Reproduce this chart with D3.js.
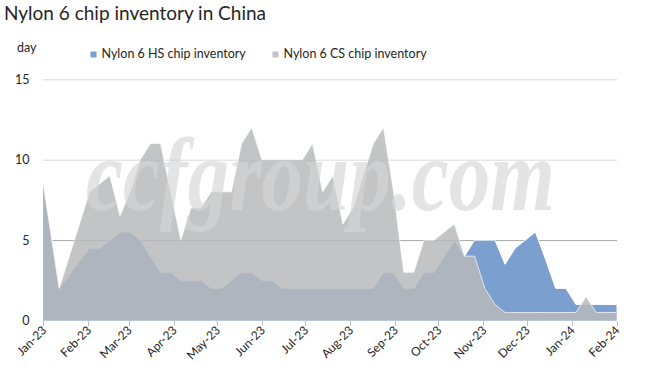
<!DOCTYPE html>
<html><head><meta charset="utf-8">
<script src="https://cdn.jsdelivr.net/npm/d3@7"></script>
<style>body{margin:0;background:#fff} svg{display:block}</style>
</head><body><svg id="c" width="647" height="380"></svg>
<script>
const dates = ["2023-01-01","2023-01-12","2023-02-02","2023-02-09","2023-02-16","2023-02-23","2023-03-02","2023-03-09","2023-03-16","2023-03-23","2023-03-30","2023-04-06","2023-04-13","2023-04-20","2023-04-27","2023-05-04","2023-05-11","2023-05-18","2023-05-25","2023-06-01","2023-06-08","2023-06-15","2023-06-22","2023-06-29","2023-07-06","2023-07-13","2023-07-20","2023-07-27","2023-08-03","2023-08-10","2023-08-17","2023-08-24","2023-08-31","2023-09-07","2023-09-14","2023-09-21","2023-09-28","2023-10-12","2023-10-19","2023-10-26","2023-11-02","2023-11-09","2023-11-16","2023-11-23","2023-11-30","2023-12-07","2023-12-14","2023-12-21","2023-12-28","2024-01-04","2024-01-11","2024-01-18","2024-01-25","2024-02-01"];
const hsValues = [8.5,2,4.5,4.5,5,5.5,5.5,5,4,3,3,2.5,2.5,2.5,2,2,2.5,3,3,2.5,2.5,2,2,2,2,2,2,2,2,2,2,3,3,2,2,3,3,5,4,5,5,5,3.5,4.5,5,5.5,3.8,2,2,1,1,1,1,1];
const csValues = [8.5,2,8,8.5,9,6.5,8,10,11,11,8,5,7,7,8,8,8,11,12,10,10,10,10,10,11,8,9,6,7,9,11,12,8,3,3,5,5,6,4,4,2,1,0.5,0.5,0.5,0.5,0.5,0.5,0.5,0.5,1.5,0.5,0.5,0.5];
const yTicks = [0,5,10,15];
const monthTicks = ["2023-01-01","2023-02-01","2023-03-01","2023-04-01","2023-05-01","2023-06-01","2023-07-01","2023-08-01","2023-09-01","2023-10-01","2023-11-01","2023-12-01","2024-01-01","2024-02-01"];
const seriesNames = ["Nylon 6 HS chip inventory","Nylon 6 CS chip inventory"];
const titleText = "Nylon 6 chip inventory in China";
const unitText = "day";
const watermarkText = "ccfgroup.com";

const parse = d3.utcParse("%Y-%m-%d");
const data = dates.map((d,i)=>({date:parse(d), hs:hsValues[i], cs:csValues[i]}));
const svg = d3.select("#c");
const FONT = "Lato, 'Open Sans', sans-serif";
const x = d3.scaleUtc().domain([parse(monthTicks[0]), parse(monthTicks[monthTicks.length-1])]).range([43.3, 616.5]);
const y = d3.scaleLinear().domain([0,15]).range([320.5, 79.3]);

// title
svg.append("text").attr("x",4).attr("y",20).attr("font-family",FONT).attr("font-size",19).attr("fill","#262626").text(titleText);
svg.append("text").attr("x",17).attr("y",52).attr("font-family",FONT).attr("font-size",12.5).attr("fill","#262626").text(unitText);

// legend
const colors = ["#7ba0d0","#c3c4c6"];
const legX = [90.5, 272.5];
seriesNames.forEach((n,i)=>{
  svg.append("rect").attr("x",legX[i]).attr("y",51.5).attr("width",6).attr("height",6).attr("fill",colors[i]);
  svg.append("text").attr("x",legX[i]+11).attr("y",58).attr("font-family",FONT).attr("font-size",12.5).attr("fill","#262626").text(n);
});

// gridlines
svg.append("g").selectAll("line").data(yTicks.filter(t=>t>0)).join("line")
  .attr("x1",43.3).attr("x2",617).attr("y1",d=>y(d)+0.5).attr("y2",d=>y(d)+0.5)
  .attr("stroke",d=>d===5?"#a6a6a6":"#d9d9d9").attr("stroke-width",1);

// y labels
svg.append("g").selectAll("text").data(yTicks).join("text")
  .attr("x",29.5).attr("y",d=>y(d)+4.5).attr("text-anchor","end")
  .attr("font-family",FONT).attr("font-size",12.5).attr("fill","#262626").text(d=>d);

// areas
const areaHS = d3.area().x(d=>x(d.date)).y0(y(0)).y1(d=>y(d.hs));
const lineHS = d3.line().x(d=>x(d.date)).y(d=>y(d.hs));
const areaCS = d3.area().x(d=>x(d.date)).y0(y(0)).y1(d=>y(d.cs));
const lineCS = d3.line().x(d=>x(d.date)).y(d=>y(d.cs));
svg.append("path").datum(data).attr("d",areaHS).attr("fill","#7ba0d0");
svg.append("path").datum(data).attr("d",lineHS).attr("fill","none").attr("stroke","#ffffff").attr("stroke-width",1);
svg.append("path").datum(data).attr("d",areaCS).attr("fill","rgb(184,185,187)").attr("fill-opacity",0.84);
svg.append("path").datum(data).attr("d",lineCS).attr("fill","none").attr("stroke","#ffffff").attr("stroke-opacity",0.7).attr("stroke-width",1);

// x axis ticks
const xt = monthTicks.map(parse);
svg.append("g").selectAll("line").data(xt).join("line")
  .attr("x1",d=>Math.round(x(d))+0.5).attr("x2",d=>Math.round(x(d))+0.5).attr("y1",321).attr("y2",326)
  .attr("stroke","#bfbfbf");
const fmt = d3.utcFormat("%b-%y");
svg.append("g").selectAll("text").data(xt).join("text")
  .attr("text-anchor","end")
  .attr("transform",d=>`translate(${x(d)+4},${331}) rotate(-45)`)
  .attr("font-family",FONT).attr("font-size",12).attr("fill","#262626").text(d=>fmt(d));

// watermark
svg.append("text").attr("transform","translate(86,210) scale(0.8,1)")
  .attr("font-family","'Liberation Serif', serif").attr("font-style","italic").attr("font-weight","bold")
  .attr("font-size",104).attr("fill","#d6d6d6").attr("fill-opacity",0.65)
  .text(watermarkText);
</script>
</body></html>
